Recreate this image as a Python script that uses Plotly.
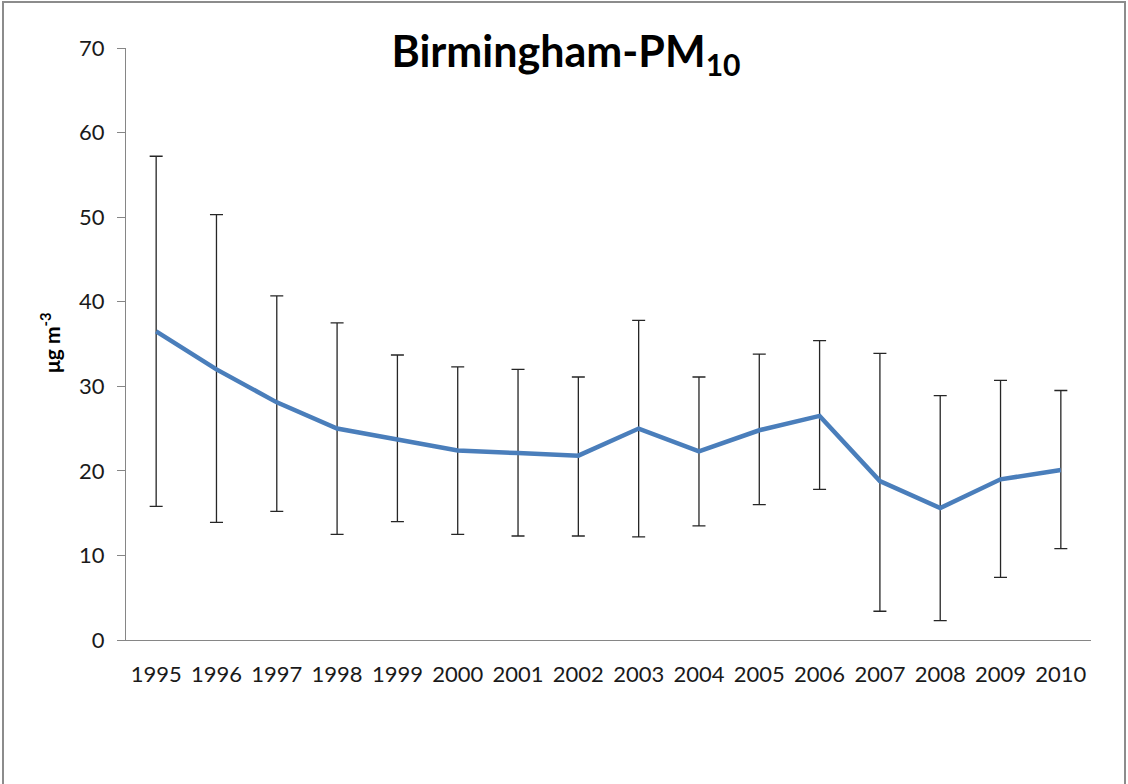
import plotly.graph_objects as go

years = ["1995", "1996", "1997", "1998", "1999", "2000", "2001", "2002",
         "2003", "2004", "2005", "2006", "2007", "2008", "2009", "2010"]
pm10_mean = [36.5, 32.0, 28.1, 25.0, 23.7, 22.4, 22.1, 21.8,
             25.0, 22.3, 24.8, 26.5, 18.8, 15.6, 19.0, 20.1]
pm10_upper = [57.2, 50.3, 40.7, 37.5, 33.7, 32.3, 32.0, 31.1,
              37.8, 31.1, 33.8, 35.4, 33.9, 28.9, 30.7, 29.5]
pm10_lower = [15.8, 13.9, 15.2, 12.5, 14.0, 12.5, 12.3, 12.3,
              12.2, 13.5, 16.0, 17.8, 3.4, 2.3, 7.4, 10.8]

err_plus = [u - m for u, m in zip(pm10_upper, pm10_mean)]
err_minus = [m - l for m, l in zip(pm10_mean, pm10_lower)]

W, H = 1128, 784
L, R, T, B = 126, 37, 48, 144
pw, ph = W - L - R, H - T - B

def px_x(x):
    return (x - L) / pw

def px_y(y):
    return (H - B - y) / ph

fig = go.Figure()
fig.add_trace(go.Scatter(
    x=years, y=pm10_mean, mode="lines",
    line=dict(color="#4a7ebb", width=4.5),
    error_y=dict(type="data", symmetric=False, array=err_plus, arrayminus=err_minus,
                 color="#262626", thickness=1.3, width=6.5),
    showlegend=False, hoverinfo="x+y",
))

axis_color = "#868686"
fig.update_layout(
    width=W, height=H,
    margin=dict(l=L, r=R, t=T, b=B),
    paper_bgcolor="white", plot_bgcolor="white",
    font=dict(family="Lato, 'Open Sans', sans-serif", color="#1a1a1a"),
    title=dict(text="<b>Birmingham-PM<sub>10</sub></b>", x=566 / W, xanchor="center",
               y=1 - 52 / H, yanchor="middle", yref="container",
               font=dict(size=43, color="black", family="Lato, sans-serif")),
    xaxis=dict(type="category", range=[-0.5, 15.5], showline=True, linecolor=axis_color,
               linewidth=1.2, ticks="", showgrid=False, zeroline=False,
               tickfont=dict(size=22, color="#1a1a1a"), ticklabelstandoff=14),
    yaxis=dict(range=[0, 70], dtick=10, showline=True, linecolor=axis_color, linewidth=1.2,
               ticks="outside", ticklen=8, tickcolor=axis_color, tickwidth=1.2,
               showgrid=False, zeroline=False,
               tickfont=dict(size=22, color="#1a1a1a"), ticklabelstandoff=8),
    annotations=[dict(text="<b>μg m<sup>-3</sup></b>", textangle=-90, x=px_x(50), y=px_y(343),
                      xref="paper", yref="paper", showarrow=False,
                      font=dict(size=21, color="black"), xanchor="center", yanchor="middle")],
    shapes=[dict(type="rect", xref="paper", yref="paper",
                 x0=px_x(3), x1=px_x(1125), y0=px_y(800), y1=px_y(2),
                 line=dict(color="#8c8c8c", width=2), fillcolor="rgba(0,0,0,0)", layer="below")],
)

fig.write_html("out.html", config={"displayModeBar": False},
               post_script="document.body.style.margin='0px';document.body.style.overflow='hidden';")
